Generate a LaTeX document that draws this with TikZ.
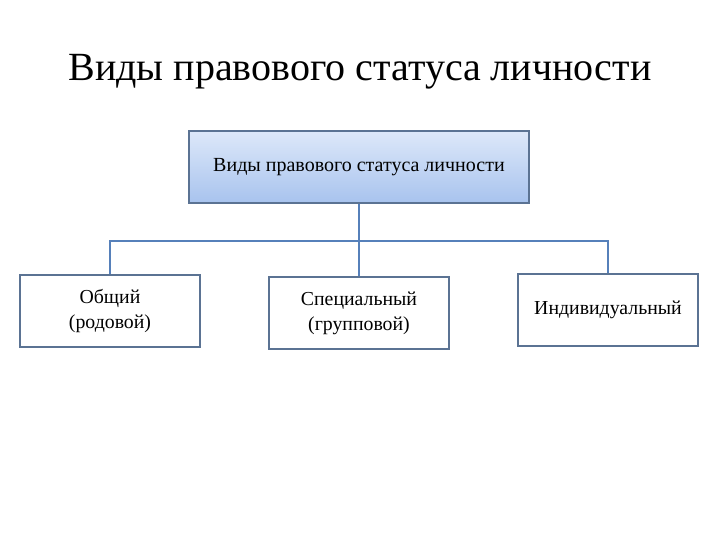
\documentclass[tikz,border=0pt]{standalone}
\usepackage{fontspec}
\setmainfont{Liberation Serif}
\definecolor{boxline}{HTML}{5B7393}
\definecolor{conn}{HTML}{5680BA}
\definecolor{topc}{HTML}{DDE8F9}
\definecolor{botc}{HTML}{A8C3EE}
\tikzset{
  leaf/.style={draw=boxline, line width=1.8pt, fill=white, minimum width=180pt, minimum height=72pt, align=center, font=\fontsize{19.8}{25}\selectfont, inner sep=0pt},
  head/.style={draw=boxline, line width=1.8pt, top color=topc, bottom color=botc, minimum width=340pt, minimum height=72pt, font=\fontsize{20}{24}\selectfont, inner sep=0pt},
  conline/.style={draw=conn, line width=2.2pt}
}
\begin{document}
\begin{tikzpicture}[x=1pt,y=-1pt]
\useasboundingbox (0,0) rectangle (720,540);
\node (title) at (360,72) {\fontsize{40}{44}\selectfont Виды правового статуса личности};
\node[head] (top) at (359,167) {Виды правового статуса личности};
\node[leaf] (a) at (110,311) {Общий\\(родовой)};
\node[leaf] (b) at (359,313) {Специальный\\(групповой)};
\node[leaf] (c) at (608,310) {Индивидуальный};
\coordinate (j) at (359,241);
\draw[conline] (top.south) -- (j);
\draw[conline] (a.north) |- (j) -| (c.north);
\draw[conline] (j) -- (b.north);
\end{tikzpicture}
\end{document}
